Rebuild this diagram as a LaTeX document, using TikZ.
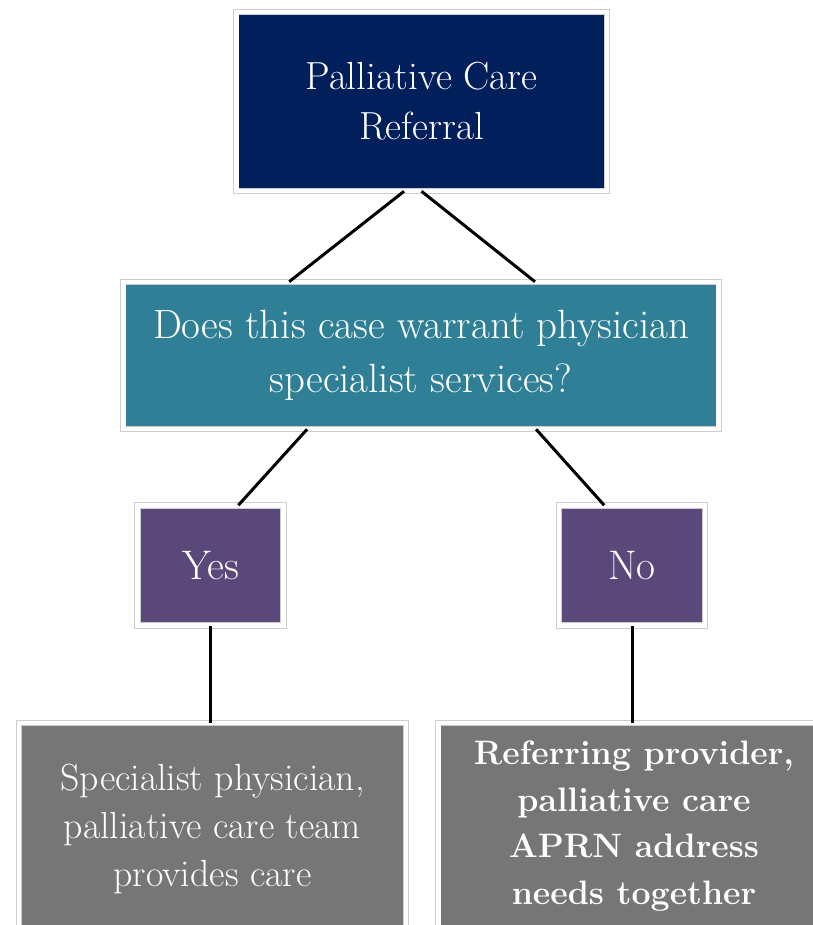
\documentclass[tikz,border=0pt]{standalone}
\usepackage{tikz}
\usetikzlibrary{shadows, calc}
\usepackage{xcolor}
\definecolor{navy}{RGB}{0,31,91}
\definecolor{teal}{RGB}{47,128,150}
\definecolor{plum}{RGB}{91,72,122}
\definecolor{slate}{RGB}{118,118,118}
\definecolor{rim}{RGB}{205,205,205}

\begin{document}
\begin{tikzpicture}[
    x=0.02cm, y=-0.02cm,
    box/.style={rectangle, draw=rim, double=white, line width=0.35pt, double distance=2.8pt, text=white, align=center, inner sep=2pt, drop shadow={opacity=0.35, shadow xshift=0.8pt, shadow yshift=-1pt}},
    link/.style={line width=1.7pt, black},
]
\clip (0,0) rectangle (813,925);
\useasboundingbox (0,0) rectangle (813,925);

\node[box, fill=navy, minimum width=7.42cm, minimum height=3.58cm, font=\fontsize{22.3}{28.5}\selectfont] (referral) at (421.5,101.5) {Palliative Care\\Referral};
\node[box, fill=teal, minimum width=11.92cm, minimum height=2.94cm, font=\fontsize{23.3}{30.5}\selectfont] (question) at (421,355.5) {Does this case warrant physician\\specialist services?};
\node[box, fill=plum, minimum width=2.92cm, minimum height=2.4cm, font=\fontsize{23.5}{28}\selectfont] (yes) at (210.5,565.5) {Yes};
\node[box, fill=plum, minimum width=2.92cm, minimum height=2.4cm, font=\fontsize{23.5}{28}\selectfont] (no) at (632,565.5) {No};
\node[box, fill=slate, minimum width=7.74cm, minimum height=4.24cm, font=\fontsize{21.5}{27.5}\selectfont] (specialist) at (212.5,829) {Specialist physician,\\palliative care team\\provides care};
\node[box, fill=slate, minimum width=7.84cm, minimum height=4.12cm, font=\fontsize{19.3}{26.5}\selectfont\bfseries] (together) at (634,826) {Referring provider,\\palliative care\\APRN address\\needs together};

% Referral to question
\draw[link] ($(referral.south west)!0.453!(referral.south east)$) -- ($(question.north west)!0.279!(question.north east)$);
\draw[link] (referral.south) -- ($(question.north west)!0.691!(question.north east)$);

% Question to answers
\draw[link] ($(question.south west)!0.309!(question.south east)$) -- ($(yes.north west)!0.69!(yes.north east)$);
\draw[link] ($(question.south west)!0.693!(question.south east)$) -- ($(no.north west)!0.31!(no.north east)$);

% Answers to outcomes
\draw[link] (yes.south) -- (yes.south |- specialist.north);
\draw[link] (no.south) -- (no.south |- together.north);

\end{tikzpicture}
\end{document}
